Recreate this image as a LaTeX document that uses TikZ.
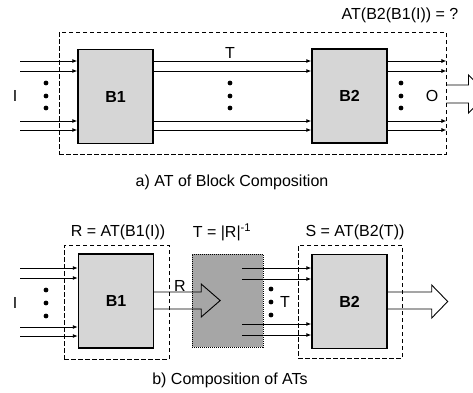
\documentclass[tikz,border=0pt]{standalone}
\usepackage{fontspec}
\setmainfont{Liberation Sans}
\usepackage{tikz}
\usetikzlibrary{arrows.meta,positioning,calc}

\begin{document}
\begin{tikzpicture}[x=1pt, y=-1pt,
  box/.style={rectangle, draw=black, fill=#1, line width=1.4pt, inner sep=0pt,
              minimum width=75pt, minimum height=94pt, font=\fontsize{16}{18}\selectfont\bfseries},
  frame/.style={rectangle, draw=black, dash pattern=on 4.5pt off 2.5pt, line width=0.9pt, inner sep=0pt},
  arr/.style={-{Latex[length=5pt,width=4pt]}, line width=0.9pt},
  wide/.style={line width=0.9pt, line join=miter},
  lbl/.style={font=\fontsize{16}{18}\selectfont, inner sep=0pt}
]
  \useasboundingbox (0,0) rectangle (473,392);
  \clip (0,0) rectangle (473,392);

  % a) blocks and frame
  \node[box=gray!32] (b1a) at (115.5,96.5) {B1};
  \node[box=gray!32] (b2a) at (349.5,96) {B2};
  \node[frame, minimum width=387pt, minimum height=122pt] (fa) at (252.5,93) {};

  % a) lines
  \foreach \y in {61,71,121,130} {
    \coordinate (ia) at (20,\y);
    \draw[arr] (ia) -- (ia -| b1a.west);
    \draw[arr] (b1a.east |- ia) -- (b2a.west |- ia);
    \draw[arr] (b2a.east |- ia) -- (fa.east |- ia);
  }
  \foreach \x in {46,230,401}
    \foreach \y in {83,96,108}
      \fill (\x,\y) circle (2.4pt);

  % a) output
  \draw[wide] (fa.east |- 0,85) -- ++(22,0) -- ++(0,-10) -- ++(19,19) -- ++(-19,19)
    -- ++(0,-10) -- (fa.east |- 0,103);

  % a) labels
  \node[lbl] (ilba) at (15,96) {I};
  \node[lbl] (tlba) at (230,53) {T};
  \node[lbl] (olba) at (432,96) {O};
  \node[lbl] (tita) at (400,15) {AT(B2(B1(I)) = ?};
  \node[lbl] (capa) at (232,182) {a) AT of Block Composition};

  % b) blocks and frames
  \node[box=gray!32] (b1b) at (116,301) {B1};
  \node[box=gray!32] (b2b) at (349.5,301.5) {B2};
  \node[frame, minimum width=105pt, minimum height=114pt] (fb1) at (116.5,302) {};
  \node[frame, minimum width=104pt, minimum height=113pt] (fb2) at (350,301.5) {};
  \node[rectangle, draw=black, densely dotted, fill=gray!70, line width=1pt, inner sep=0pt,
        minimum width=71pt, minimum height=93pt] (inv) at (227.5,300.5) {};

  % b) lines
  \foreach \y in {268,278,327,336} {
    \coordinate (ib) at (20,\y);
    \draw[arr] (ib) -- (ib -| b1b.west);
  }
  \foreach \y in {268,279,324,335} {
    \coordinate (tb) at (242,\y);
    \draw[arr] (tb) -- (tb -| b2b.west);
  }
  \foreach \y in {290,303,316} \fill (46,\y) circle (2.4pt);
  \foreach \y in {289,302,315} \fill (271,\y) circle (2.4pt);

  % b) wide arrows
  \draw[wide] (b1b.east |- 0,292) -- ++(47,0) -- ++(0,-8) -- ++(19,16.5) -- ++(-19,16.5)
    -- ++(0,-8) -- (b1b.east |- 0,309);
  \draw[wide] (b2b.east |- 0,292) -- ++(44,0) -- ++(0,-7) -- ++(16,16.5) -- ++(-16,16.5)
    -- ++(0,-9) -- (b2b.east |- 0,309);

  % b) labels
  \node[lbl] (ilbb) at (15,303) {I};
  \node[lbl] (rlbb) at (180,286) {R};
  \node[lbl] (tlbb) at (285,302) {T};
  \node[lbl] (titr) at (118,232) {R = AT(B1(I))};
  \node[lbl] (titt) at (222,232) {T = |R|\textsuperscript{-1}};
  \node[lbl] (tits) at (355,232) {S = AT(B2(T))};
  \node[lbl] (capb) at (230,380) {b) Composition of ATs};

\end{tikzpicture}
\end{document}
